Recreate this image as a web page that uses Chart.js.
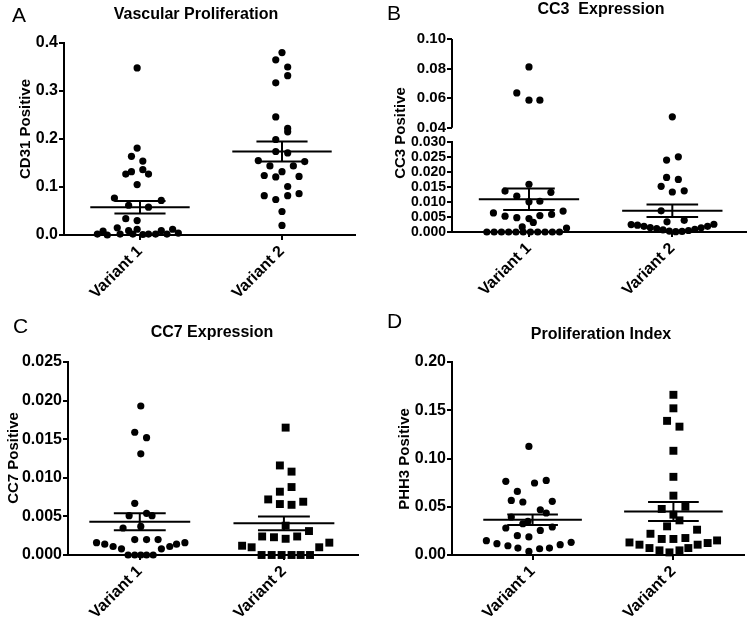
<!DOCTYPE html>
<html>
<head>
<meta charset="utf-8">
<script src="https://cdn.jsdelivr.net/npm/chart.js@4/dist/chart.umd.min.js"></script>
<style>
  body { margin: 0; background: #fff; }
  #fig { position: relative; width: 750px; height: 619px; overflow: hidden; font-family: "Liberation Sans", Arial, sans-serif; color: #000; }
  canvas { position: absolute; }
  .letter { position: absolute; font-size: 21px; line-height: 1; }
  .title { position: absolute; font-size: 16px; font-weight: bold; line-height: 1; white-space: pre; transform: translateX(-50%); }
  .ytitle { position: absolute; font-size: 15px; font-weight: bold; line-height: 1; white-space: nowrap; transform: translate(-50%, -50%) rotate(-90deg); }
</style>
</head>
<body>
<div id="fig">
  <canvas id="cA" width="375" height="300" style="left:0;top:0"></canvas>
  <canvas id="cB" width="375" height="300" style="left:375px;top:0"></canvas>
  <canvas id="cC" width="375" height="319" style="left:0;top:300px"></canvas>
  <canvas id="cD" width="375" height="319" style="left:375px;top:300px"></canvas>

  <div class="letter" style="left:12px;top:4px">A</div>
  <div class="letter" style="left:387px;top:2px">B</div>
  <div class="letter" style="left:13px;top:315px">C</div>
  <div class="letter" style="left:387px;top:310px">D</div>

  <div class="title" style="left:196px;top:6px">Vascular Proliferation</div>
  <div class="title" style="left:601px;top:1px">CC3  Expression</div>
  <div class="title" style="left:212px;top:324px">CC7 Expression</div>
  <div class="title" style="left:601px;top:326px">Proliferation Index</div>

  <div class="ytitle" style="left:24px;top:129px">CD31 Positive</div>
  <div class="ytitle" style="left:399px;top:133px">CC3 Positive</div>
  <div class="ytitle" style="left:12px;top:458px">CC7 Positive</div>
  <div class="ytitle" style="left:403px;top:459px">PHH3 Positive</div>
</div>

<script>
// ---- data ----
const categories = ['Variant 1', 'Variant 2'];

// A - Vascular Proliferation (CD31)
const cd31V1 = [0.348, 0.181, 0.164, 0.154, 0.127, 0.132, 0.136, 0.127, 0.105, 0.077, 0.072, 0.062, 0.058, 0.034, 0.030,
  0.002, 0.008, 0.000, 0.015, 0.002, 0.009, 0.002, 0.012, 0.001, 0.002, 0.002, 0.009, 0.002, 0.012, 0.004];
const cd31V1Jitter = [-0.02, -0.02, -0.06, 0.02, -0.10, -0.06, 0.02, 0.06, -0.02, -0.18, 0.15, -0.08, 0.06, -0.10, -0.02,
  -0.30, -0.26, -0.23, -0.16, -0.14, -0.08, -0.05, -0.02, 0.02, 0.06, 0.11, 0.15, 0.19, 0.23, 0.27];
const cd31V2 = [0.380, 0.365, 0.350, 0.332, 0.317, 0.246, 0.222, 0.215, 0.199, 0.174, 0.171, 0.155, 0.144, 0.144, 0.153,
  0.124, 0.121, 0.132, 0.122, 0.101, 0.082, 0.074, 0.082, 0.086, 0.049, 0.020];
const cd31V2Jitter = [0.00, -0.044, 0.04, 0.04, -0.044, -0.044, 0.04, 0.04, -0.044, -0.044, 0.04, -0.167, -0.085, 0.08, 0.16,
  -0.125, -0.044, 0.00, 0.12, 0.04, -0.125, -0.044, 0.04, 0.12, 0.00, 0.00];
const cd31Mean = [0.058, 0.174];
const cd31Sem = [0.013, 0.021];
const cd31Ticks = [0, 0.1, 0.2, 0.3, 0.4];

// B - CC3 Expression (broken axis)
const cc3V1 = [0.0811, 0.0636, 0.0587, 0.0587, 0.0160, 0.0137, 0.0133, 0.0120, 0.0101, 0.0103, 0.0064, 0.0053, 0.0048, 0.0055,
  0.0059, 0.0070, 0.0045, 0.0032, 0.0017, 0, 0, 0, 0, 0, 0, 0, 0, 0, 0, 0, 0.0013];
const cc3V1Jitter = [0.00, -0.085, 0.00, 0.076, 0.00, -0.167, 0.153, -0.085, 0.00, 0.076, -0.248, -0.167, -0.085, 0.076,
  0.158, 0.238, 0.00, 0.03, -0.047, -0.294, -0.243, -0.192, -0.142, -0.091, -0.040, 0.010, 0.061, 0.112, 0.163, 0.213, 0.262];
const cc3V2 = [0.0474, 0.0241, 0.0252, 0.0183, 0.0176, 0.0153, 0.0134, 0.0138, 0.0071, 0.0034, 0.0039,
  0.0025, 0.0023, 0.0019, 0.0015, 0.0011, 0.0007, 0.0003, 0.0001, 0.0002, 0.0005, 0.0009, 0.0014, 0.0019, 0.0026];
const cc3V2Jitter = [0.00, -0.04, 0.042, -0.04, 0.042, -0.078, 0.00, 0.083, -0.078, -0.037, 0.083,
  -0.287, -0.243, -0.198, -0.154, -0.109, -0.065, -0.021, 0.024, 0.068, 0.113, 0.157, 0.201, 0.246, 0.290];
const cc3Mean = [0.0110, 0.0071];
const cc3Sem = [0.0036, 0.0021];
const cc3LowerTicks = [0, 0.005, 0.010, 0.015, 0.020, 0.025, 0.030];
const cc3UpperTicks = [0.04, 0.06, 0.08, 0.10];

// C - CC7 Expression
const cc7V1 = [0.0193, 0.0159, 0.0152, 0.0131, 0.0067, 0.0051, 0.0054, 0.0051, 0.0035, 0.0037, 0.0020, 0.0020, 0.0020,
  0.0016, 0.0014, 0.0011, 0.0008, 0, 0, 0, 0, 0, 0.0008, 0.0011, 0.0014, 0.0016];
const cc7V1Jitter = [0.007, -0.035, 0.047, 0.007, -0.035, -0.074, 0.047, 0.085, -0.116, 0.007, -0.035, 0.047, 0.127,
  -0.30, -0.243, -0.185, -0.127, -0.081, -0.035, 0.007, 0.047, 0.093, 0.15, 0.208, 0.255, 0.313];
const cc7V2 = [0.0165, 0.0116, 0.0108, 0.0088, 0.0082, 0.0072, 0.0066, 0.0065, 0.0069, 0.0038, 0.0031, 0.0024, 0.0023,
  0.0021, 0.0024, 0.0012, 0.0010, 0.0010, 0.0016, 0, 0, 0, 0, 0, 0];
const cc7V2Jitter = [0.012, -0.028, 0.053, 0.053, -0.028, -0.109, -0.028, 0.053, 0.134, 0.012, 0.174, -0.151, -0.069,
  0.012, 0.092, -0.29, -0.224, 0.245, 0.315, -0.155, -0.085, -0.016, 0.053, 0.116, 0.181];
const cc7Mean = [0.0043, 0.0041];
const cc7Sem = [0.0011, 0.0009];
const cc7Ticks = [0, 0.005, 0.010, 0.015, 0.020, 0.025];

// D - Proliferation Index (PHH3)
const phh3V1 = [0.1125, 0.0763, 0.0746, 0.0773, 0.0659, 0.0566, 0.0549, 0.0556, 0.0469, 0.0435, 0.0394, 0.0349, 0.0324,
  0.028, 0.020, 0.0187, 0.0255, 0.029, 0.0148, 0.0117, 0.0096, 0.0072, 0.0037, 0.0065, 0.0072, 0.0107, 0.0131];
const phh3V1Jitter = [-0.026, -0.19, 0.014, 0.097, -0.108, -0.151, -0.069, 0.14, 0.055, 0.097, -0.151, -0.033, -0.069,
  -0.19, -0.108, -0.026, 0.055, 0.14, -0.328, -0.253, -0.175, -0.104, -0.026, 0.05, 0.12, 0.196, 0.274];
const phh3V2 = [0.166, 0.152, 0.139, 0.133, 0.108, 0.081, 0.0615, 0.050, 0.0477, 0.0418, 0.0359, 0.0297, 0.0262, 0.022,
  0.0166, 0.0166, 0.0176, 0.013, 0.0107, 0.0072, 0.0048, 0.0027, 0.0048, 0.0072, 0.0107, 0.0124, 0.0151];
const phh3V2Jitter = [0, 0, -0.045, 0.043, 0, 0, 0, 0.085, -0.083, 0, 0.043, -0.045, 0.168, -0.163,
  -0.083, 0, 0.085, -0.312, -0.241, -0.17, -0.099, -0.028, 0.043, 0.106, 0.172, 0.243, 0.31];
const phh3Mean = [0.0365, 0.045];
const phh3Sem = [0.0055, 0.0098];
const phh3Ticks = [0, 0.05, 0.10, 0.15, 0.20];

// ---- drawing ----
Chart.defaults.font.family = '"Liberation Sans", Arial, sans-serif';
Chart.defaults.color = '#000';

const MEAN_HALF = 0.35;
const SEM_HALF = 0.18;

function dotSet(values, jitter, center, shape, yAxisID, keep) {
  const pts = [];
  values.forEach((v, i) => {
    if (keep(v)) pts.push({ x: center + jitter[i], y: v });
  });
  return {
    data: pts,
    yAxisID: yAxisID,
    pointStyle: shape,
    pointRadius: shape === 'rect' ? 5.6 : 3.6,
    backgroundColor: '#000',
    pointBorderWidth: 0,
    borderWidth: 0,
    showLine: false,
    clip: false
  };
}

function segment(x0, x1, y0, y1, yAxisID) {
  return {
    data: [{ x: x0, y: y0 }, { x: x1, y: y1 }],
    yAxisID: yAxisID,
    showLine: true,
    pointRadius: 0,
    borderColor: '#000',
    borderWidth: 2,
    clip: false
  };
}

function meanSemSets(means, sems, yAxisID) {
  const out = [];
  means.forEach((m, i) => {
    const c = i + 1, s = sems[i];
    out.push(segment(c - MEAN_HALF, c + MEAN_HALF, m, m, yAxisID));
    out.push(segment(c - SEM_HALF, c + SEM_HALF, m + s, m + s, yAxisID));
    out.push(segment(c - SEM_HALF, c + SEM_HALF, m - s, m - s, yAxisID));
    out.push(segment(c, c, m - s, m + s, yAxisID));
  });
  return out;
}

function yScale(ticks, decimals, width, extra, fontSize) {
  return Object.assign({
    type: 'linear',
    position: 'left',
    min: ticks[0],
    max: ticks[ticks.length - 1],
    afterBuildTicks: s => { s.ticks = ticks.map(v => ({ value: v })); },
    afterFit: s => { s.width = width; },
    ticks: { callback: v => v.toFixed(decimals), autoSkip: false, padding: 1, font: { size: fontSize || 16, weight: 'bold' } },
    grid: { drawOnChartArea: false, tickLength: 5, color: '#000', lineWidth: 2 },
    border: { color: '#000', width: 2 }
  }, extra || {});
}

function xScale(xMin, xMax, height) {
  return {
    type: 'linear',
    min: xMin,
    max: xMax,
    afterBuildTicks: s => { s.ticks = categories.map((c, i) => ({ value: i + 1 })); },
    afterFit: s => { s.height = height; },
    ticks: {
      callback: v => categories[v - 1],
      minRotation: 45, maxRotation: 45, autoSkip: false, padding: 2,
      font: { size: 16, weight: 'bold' }
    },
    grid: { drawOnChartArea: false, tickLength: 5, color: '#000', lineWidth: 2 },
    border: { color: '#000', width: 2 }
  };
}

// upper piece of the broken CC3 axis line
const brokenAxis = {
  id: 'brokenAxis',
  afterDraw(chart) {
    const s = chart.scales.y2;
    if (!s) return;
    const ctx = chart.ctx;
    const x = chart.chartArea.left;
    ctx.save();
    ctx.strokeStyle = '#000';
    ctx.lineWidth = 2;
    ctx.beginPath();
    ctx.moveTo(x, s.getPixelForValue(cc3UpperTicks[0]));
    ctx.lineTo(x, s.getPixelForValue(cc3UpperTicks[cc3UpperTicks.length - 1]));
    ctx.stroke();
    ctx.restore();
  }
};

function makeChart(id, datasets, scales, padding, plugins) {
  return new Chart(document.getElementById(id), {
    type: 'scatter',
    data: { datasets: datasets },
    options: {
      responsive: false,
      animation: false,
      events: [],
      layout: { padding: padding },
      plugins: { legend: { display: false }, tooltip: { enabled: false } },
      scales: scales
    },
    plugins: plugins || []
  });
}

const all = () => true;

// A
makeChart('cA', [
  dotSet(cd31V1, cd31V1Jitter, 1, 'circle', 'y', all),
  dotSet(cd31V2, cd31V2Jitter, 2, 'circle', 'y', all),
  ...meanSemSets(cd31Mean, cd31Sem, 'y')
], {
  x: xScale(0.465, 2.514, 65),
  y: yScale(cd31Ticks, 1, 64)
}, { left: 0, top: 43, right: 20, bottom: 0 });

// B (lower 0-0.03 and upper 0.04-0.10 stacked)
const cc3Cut = cc3LowerTicks[cc3LowerTicks.length - 1];
const low = v => v <= cc3Cut;
const high = v => v > cc3Cut;
makeChart('cB', [
  dotSet(cc3V1, cc3V1Jitter, 1, 'circle', 'y', low),
  dotSet(cc3V2, cc3V2Jitter, 2, 'circle', 'y', low),
  dotSet(cc3V1, cc3V1Jitter, 1, 'circle', 'y2', high),
  dotSet(cc3V2, cc3V2Jitter, 2, 'circle', 'y2', high),
  ...meanSemSets(cc3Mean, cc3Sem, 'y')
], {
  x: xScale(0.463, 2.514, 68),
  y: yScale(cc3LowerTicks, 3, 77, { stack: 'cc3', stackWeight: 89.4, weight: 0 }, 14),
  y2: yScale(cc3UpperTicks, 2, 77, {
    stack: 'cc3', stackWeight: 103.3, weight: 1,
    min: 0.0301,
    border: { display: false }
  }, 15)
}, { left: 0, top: 39, right: 3, bottom: 0 }, [brokenAxis]);

// C
makeChart('cC', [
  dotSet(cc7V1, cc7V1Jitter, 1, 'circle', 'y', all),
  dotSet(cc7V2, cc7V2Jitter, 2, 'rect', 'y', all),
  ...meanSemSets(cc7Mean, cc7Sem, 'y')
], {
  x: xScale(0.502, 2.514, 64),
  y: yScale(cc7Ticks, 3, 68)
}, { left: 0, top: 62, right: 17, bottom: 0 });

// D
makeChart('cD', [
  dotSet(phh3V1, phh3V1Jitter, 1, 'circle', 'y', all),
  dotSet(phh3V2, phh3V2Jitter, 2, 'rect', 'y', all),
  ...meanSemSets(phh3Mean, phh3Sem, 'y')
], {
  x: xScale(0.428, 2.504, 64),
  y: yScale(phh3Ticks, 2, 77)
}, { left: 0, top: 62, right: 5, bottom: 0 });
</script>
</body>
</html>
